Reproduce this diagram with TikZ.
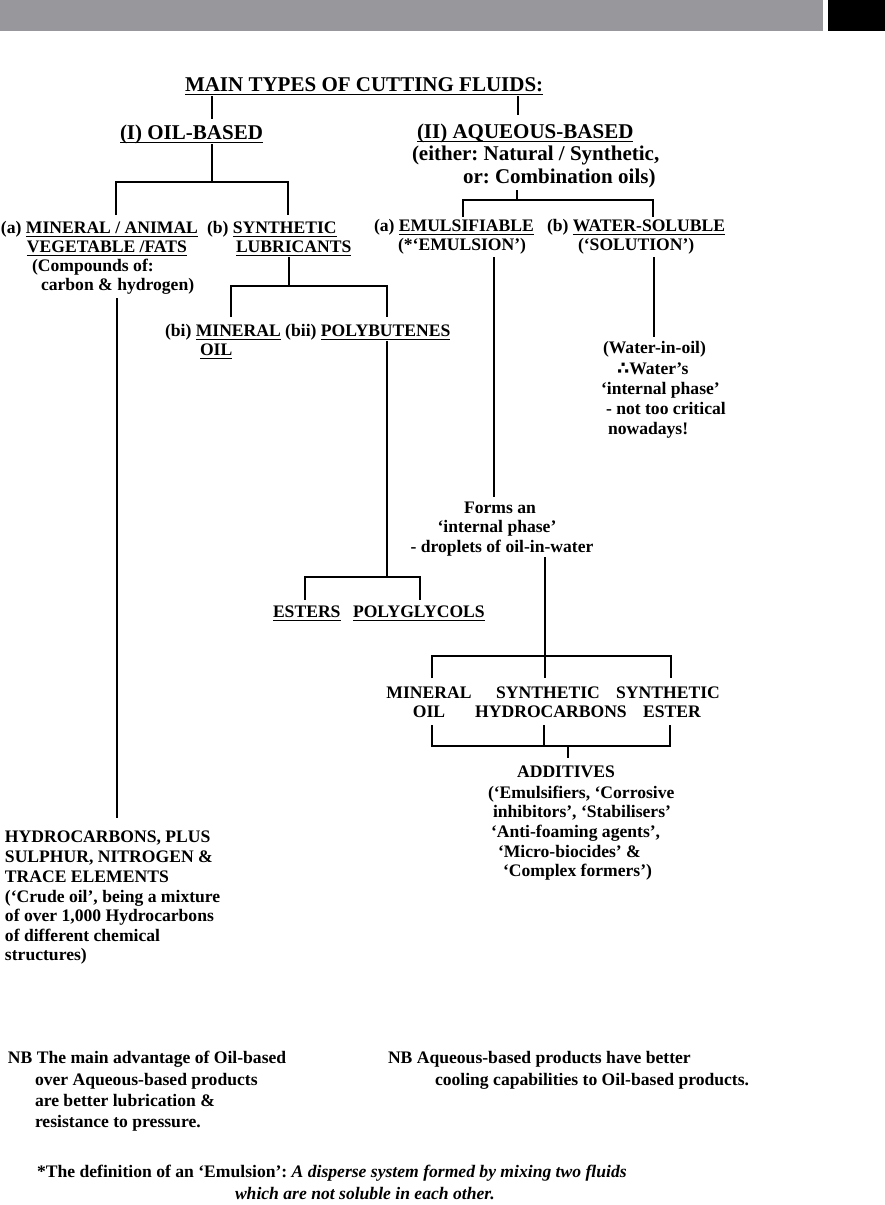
\documentclass[tikz,border=0pt]{standalone}
\usepackage{fontspec}
\setmainfont{Liberation Serif}
\newfontfamily\symf{DejaVu Sans}
\newcommand\ulx[1]{\setbox0=\hbox{#1}\rlap{\rule[-4.4pt]{\wd0}{1.3pt}}\box0\relax}
\definecolor{bargray}{RGB}{152,152,156}
\tikzset{
  txt/.style={inner sep=0pt, outer sep=0pt, font=\frenchspacing\bfseries\fontsize{17.6}{20.5}\selectfont},
  big/.style={inner sep=0pt, outer sep=0pt, font=\frenchspacing\bfseries\fontsize{21}{23}\selectfont},
  bw/.style={anchor=base west},
  bc/.style={anchor=base},
  conn/.style={line width=1.2pt, line join=miter, draw=black}
}
\begin{document}
\begin{tikzpicture}[x=1pt,y=-1pt]
\useasboundingbox (0,0) rectangle (885,1205);
\fill[white] (0,0) rectangle (885,1205);
% header
\fill[bargray] (0,0) rectangle (823,31);
\fill[black] (828,0) rectangle (885,31);

% ---------- text ----------
\node[big,bw] (title) at (185,91) {\ulx{MAIN TYPES OF CUTTING FLUIDS:}};
\node[big,bw] (oil) at (120,139) {\ulx{(I) OIL-BASED}};
\node[big,bw] (aq) at (417,138) {\ulx{(II) AQUEOUS-BASED}};
\node[big,bw] (aq2) at (412,160) {(either: Natural / Synthetic,};
\node[big,bw] (aq3) at (463,183) {or: Combination oils)};

\node[txt,bw] (ma1) at (1,233) {(a) \ulx{MINERAL / ANIMAL}};
\node[txt,bw] (ma2) at (27,252) {\ulx{VEGETABLE /FATS}};
\node[txt,bw] (ma3) at (32,271) {(Compounds of:};
\node[txt,bw] (ma4) at (41,290) {carbon \& hydrogen)};
\node[txt,bw] (sl1) at (207,233) {(b) \ulx{SYNTHETIC}};
\node[txt,bw] (sl2) at (236,252) {\ulx{LUBRICANTS}};
\node[txt,bw] (bi1) at (165,336) {(bi) \ulx{MINERAL} (bii) \ulx{POLYBUTENES}};
\node[txt,bw] (bi2) at (200,355) {\ulx{OIL}};
\node[txt,bw] (est) at (273,617) {\ulx{ESTERS}};
\node[txt,bw] (pgl) at (353,617) {\ulx{POLYGLYCOLS}};

\node[txt,bw] (em1) at (374,231) {(a) \ulx{EMULSIFIABLE}};
\node[txt,bw] (em2) at (398,250) {(*‘EMULSION’)};
\node[txt,bw] (ws1) at (547,231) {(b) \ulx{WATER-SOLUBLE}};
\node[txt,bw] (ws2) at (578,250) {(‘SOLUTION’)};

\node[txt,bw] (wo1) at (603,353) {(Water-in-oil)};
\node[txt,bw] (wo2) at (617,374) {{\symf ∴}Water’s};
\node[txt,bw] (wo3) at (601,394) {‘internal phase’};
\node[txt,bw] (wo4) at (606,414) {- not too critical};
\node[txt,bw] (wo5) at (608,434) {nowadays!};

\node[txt,bc] (fa1) at (500,513) {Forms an};
\node[txt,bc] (fa2) at (497,532) {‘internal phase’};
\node[txt,bc] (fa3) at (502,552) {- droplets of oil-in-water};

\node[txt,bc] (mo1) at (429,698) {MINERAL};
\node[txt,bc] (mo2) at (429,717) {OIL};
\node[txt,bc] (sh1) at (548,698) {SYNTHETIC};
\node[txt,bc] (sh2) at (551,717) {HYDROCARBONS};
\node[txt,bc] (se1) at (668,698) {SYNTHETIC};
\node[txt,bc] (se2) at (672,717) {ESTER};

\node[txt,bc] (ad0) at (566,777) {ADDITIVES};
\node[txt,bw] (ad1) at (488,798) {(‘Emulsifiers, ‘Corrosive};
\node[txt,bw] (ad2) at (493,817) {inhibitors’, ‘Stabilisers’};
\node[txt,bw] (ad3) at (491,837) {‘Anti-foaming agents’,};
\node[txt,bw] (ad4) at (498,857) {‘Micro-biocides’ \&};
\node[txt,bw] (ad5) at (503,876) {‘Complex formers’)};

\node[txt,bw] (hy1) at (5,842) {HYDROCARBONS, PLUS};
\node[txt,bw] (hy2) at (5,862) {SULPHUR, NITROGEN \&};
\node[txt,bw] (hy3) at (5,882) {TRACE ELEMENTS};
\node[txt,bw] (hy4) at (5,902) {(‘Crude oil’, being a mixture};
\node[txt,bw] (hy5) at (5,921) {of over 1,000 Hydrocarbons};
\node[txt,bw] (hy6) at (5,941) {of different chemical};
\node[txt,bw] (hy7) at (5,960) {structures)};

\node[txt,bw] (nb1) at (8,1063) {NB The main advantage of Oil-based};
\node[txt,bw] (nb2) at (35,1085) {over Aqueous-based products};
\node[txt,bw] (nb3) at (35,1106) {are better lubrication \&};
\node[txt,bw] (nb4) at (35,1127) {resistance to pressure.};
\node[txt,bw] (nr1) at (388,1063) {NB Aqueous-based products have better};
\node[txt,bw] (nr2) at (435,1085) {cooling capabilities to Oil-based products.};

\node[txt,bw] (fn1) at (37,1177) {*The definition of an ‘Emulsion’: \textit{A disperse system formed by mixing two fluids}};
\node[txt,bw] (fn2) at (235,1199) {\textit{which are not soluble in each other.}};

% ---------- connectors ----------
\coordinate (cT1) at (212,96);  \coordinate (cO1) at (212,119);
\coordinate (cT2) at (518,96);  \coordinate (cA1) at (518,115);
\draw[conn] (cT1) -- (cO1);
\draw[conn] (cT2) -- (cA1);

\coordinate (cO2) at (212,144); \coordinate (cOj) at (212,182);
\coordinate (cOa) at (116,182); \coordinate (cOb) at (288,182);
\coordinate (cOa2) at (116,215); \coordinate (cOb2) at (288,215);
\draw[conn] (cO2) -- (cOj);
\draw[conn] (cOa2) -- (cOa) -- (cOb) -- (cOb2);

\coordinate (cM1) at (117,298); \coordinate (cM2) at (117,818);
\draw[conn] (cM1) -- (cM2);

\coordinate (cS1) at (289,257); \coordinate (cS2) at (289,286);
\coordinate (cSa) at (231,286); \coordinate (cSb) at (387,286);
\coordinate (cSa2) at (231,317); \coordinate (cSb2) at (387,317);
\draw[conn] (cS1) -- (cS2);
\draw[conn] (cSa2) -- (cSa) -- (cSb) -- (cSb2);

\coordinate (cP1) at (387,341); \coordinate (cP2) at (387,577);
\coordinate (cPa) at (305,577); \coordinate (cPb) at (420,577);
\coordinate (cPa2) at (305,600); \coordinate (cPb2) at (420,600);
\draw[conn] (cP1) -- (cP2);
\draw[conn] (cPa2) -- (cPa) -- (cPb) -- (cPb2);

\coordinate (cC1) at (517,190); \coordinate (cC2) at (517,200);
\coordinate (cCa) at (463,200); \coordinate (cCb) at (653,200);
\coordinate (cCa2) at (463,217); \coordinate (cCb2) at (653,217);
\draw[conn] (cC1) -- (cC2);
\draw[conn] (cCa2) -- (cCa) -- (cCb) -- (cCb2);

\coordinate (cE1) at (494,257); \coordinate (cE2) at (494,497);
\draw[conn] (cE1) -- (cE2);
\coordinate (cW1) at (654,257); \coordinate (cW2) at (654,337);
\draw[conn] (cW1) -- (cW2);

\coordinate (cF1) at (545,557); \coordinate (cF2) at (545,656);
\coordinate (cFa) at (432,656); \coordinate (cFb) at (671,656);
\coordinate (cFa2) at (432,678); \coordinate (cFm2) at (545,678); \coordinate (cFb2) at (671,678);
\draw[conn] (cF1) -- (cFm2);
\draw[conn] (cFa2) -- (cFa) -- (cFb) -- (cFb2);

\coordinate (cL1) at (432,725); \coordinate (cL1b) at (432,746);
\coordinate (cL2) at (544,725); \coordinate (cL2b) at (544,746);
\coordinate (cL3) at (670,725); \coordinate (cL3b) at (670,746);
\coordinate (cLd) at (568,746); \coordinate (cLe) at (568,758);
\draw[conn] (cL1) -- (cL1b) -- (cL3b) -- (cL3);
\draw[conn] (cL2) -- (cL2b);
\draw[conn] (cLd) -- (cLe);
\end{tikzpicture}
\end{document}
